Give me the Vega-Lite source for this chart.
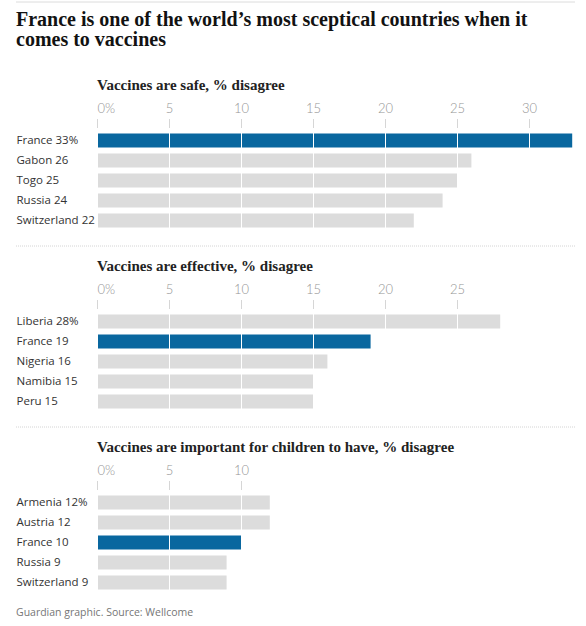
{
  "$schema": "https://vega.github.io/schema/vega-lite/v6.json",
  "autosize": {"type": "pad"},
  "padding": {"left": 15, "top": 1, "right": 11, "bottom": 4},
  "background": "#ffffff",
  "config": {
    "view": {"stroke": null},
    "concat": {"spacing": 11.5},
    "title": {"anchor": "start", "frame": "group"},
    "axisY": {
      "title": null, "domain": false, "ticks": false, "tickSize": 0, "grid": false,
      "labelAlign": "left", "labelPadding": 0, "labelFont": "Open Sans",
      "labelFontSize": 11.5, "labelColor": "#333333", "labelLimit": 200
    },
    "axisX": {
      "title": null, "orient": "top", "domain": false, "grid": true, "gridColor": "#ffffff",
      "gridOpacity": 1, "gridWidth": 1, "tickColor": "#d6d6d6", "tickSize": 9, "labelPadding": 3,
      "labelFont": "Lato", "labelFontWeight": 300, "labelFontSize": 13, "labelColor": "#959595",
      "labelAlign": {"condition": {"test": "datum.value === 0", "value": "left"}, "value": "center"},
      "zindex": 1,
      "labelExpr": "datum.value === 0 ? '0%' : datum.label"
    }
  },
  "datasets": {
    "safe": [
      {"label": "France 33%", "country": "France", "value": 33},
      {"label": "Gabon 26", "country": "Gabon", "value": 26},
      {"label": "Togo 25", "country": "Togo", "value": 25},
      {"label": "Russia 24", "country": "Russia", "value": 24},
      {"label": "Switzerland 22", "country": "Switzerland", "value": 22}
    ],
    "effective": [
      {"label": "Liberia 28%", "country": "Liberia", "value": 28},
      {"label": "France 19", "country": "France", "value": 19},
      {"label": "Nigeria 16", "country": "Nigeria", "value": 16},
      {"label": "Namibia 15", "country": "Namibia", "value": 15},
      {"label": "Peru 15", "country": "Peru", "value": 15}
    ],
    "children": [
      {"label": "Armenia 12%", "country": "Armenia", "value": 12},
      {"label": "Austria 12", "country": "Austria", "value": 12},
      {"label": "France 10", "country": "France", "value": 10},
      {"label": "Russia 9", "country": "Russia", "value": 9},
      {"label": "Switzerland 9", "country": "Switzerland", "value": 9}
    ],
    "line": [{"v": 1}]
  },
  "vconcat": [
    {
      "width": 559, "height": 63.5,
      "data": {"name": "line"},
      "mark": {"type": "rule", "color": "#dcdcdc", "strokeWidth": 1},
      "encoding": {"y": {"field": "v", "type": "quantitative", "scale": {"domain": [0, 1]}, "axis": null}},
      "title": {
        "text": ["France is one of the world’s most sceptical countries when it", "comes to vaccines"],
        "orient": "bottom", "offset": -56, "font": "Liberation Serif", "fontSize": 20,
        "fontWeight": "bold", "color": "#121212", "lineHeight": 20.5
      }
    },
    {
      "width": 556.2, "height": 106,
      "data": {"name": "safe"},
      "title": {"text": "Vaccines are safe, % disagree", "font": "Liberation Serif", "fontSize": 15, "fontWeight": "bold", "color": "#222222", "offset": 10, "dx": 81},
      "mark": {"type": "bar"},
      "encoding": {
        "y": {"field": "label", "type": "nominal", "sort": null, "scale": {"paddingInner": 0.3, "paddingOuter": 0.3}},
        "x": {"field": "value", "type": "quantitative", "scale": {"domain": [-5.625, 33], "nice": false, "zero": false}, "axis": {"values": [0, 5, 10, 15, 20, 25, 30], "zindex": 1}},
        "color": {"condition": {"test": "datum.country === 'France'", "value": "#09679f"}, "value": "#dcdcdc"}
      }
    },
    {
      "width": 559, "height": 1,
      "data": {"name": "line"},
      "mark": {"type": "rule", "color": "#d4d4d4", "strokeWidth": 1, "strokeDash": [1, 1]},
      "encoding": {"y": {"field": "v", "type": "quantitative", "scale": {"domain": [0, 1]}, "axis": null}}
    },
    {
      "width": 484.2, "height": 106,
      "data": {"name": "effective"},
      "title": {"text": "Vaccines are effective, % disagree", "font": "Liberation Serif", "fontSize": 15, "fontWeight": "bold", "color": "#222222", "offset": 10, "dx": 81},
      "mark": {"type": "bar"},
      "encoding": {
        "y": {"field": "label", "type": "nominal", "sort": null, "scale": {"paddingInner": 0.3, "paddingOuter": 0.3}},
        "x": {"field": "value", "type": "quantitative", "scale": {"domain": [-5.625, 28], "nice": false, "zero": false}, "axis": {"values": [0, 5, 10, 15, 20, 25], "zindex": 1}},
        "color": {"condition": {"test": "datum.country === 'France'", "value": "#09679f"}, "value": "#dcdcdc"}
      }
    },
    {
      "width": 559, "height": 1,
      "data": {"name": "line"},
      "mark": {"type": "rule", "color": "#d4d4d4", "strokeWidth": 1, "strokeDash": [1, 1]},
      "encoding": {"y": {"field": "v", "type": "quantitative", "scale": {"domain": [0, 1]}, "axis": null}}
    },
    {
      "width": 253.8, "height": 106,
      "data": {"name": "children"},
      "title": {"text": "Vaccines are important for children to have, % disagree", "font": "Liberation Serif", "fontSize": 15, "fontWeight": "bold", "color": "#222222", "offset": 10, "dx": 81},
      "mark": {"type": "bar"},
      "encoding": {
        "y": {"field": "label", "type": "nominal", "sort": null, "scale": {"paddingInner": 0.3, "paddingOuter": 0.3}},
        "x": {"field": "value", "type": "quantitative", "scale": {"domain": [-5.625, 12], "nice": false, "zero": false}, "axis": {"values": [0, 5, 10], "zindex": 1}},
        "color": {"condition": {"test": "datum.country === 'France'", "value": "#09679f"}, "value": "#dcdcdc"}
      }
    },
    {
      "width": 559, "height": 1,
      "data": {"name": "line"},
      "mark": {"type": "rule", "strokeOpacity": 0},
      "encoding": {"y": {"field": "v", "type": "quantitative", "scale": {"domain": [0, 1]}, "axis": null}},
      "title": {"text": "Guardian graphic. Source: Wellcome", "orient": "bottom", "offset": 0, "font": "Open Sans", "fontSize": 10.5, "fontWeight": "normal", "color": "#767676"}
    }
  ]
}
